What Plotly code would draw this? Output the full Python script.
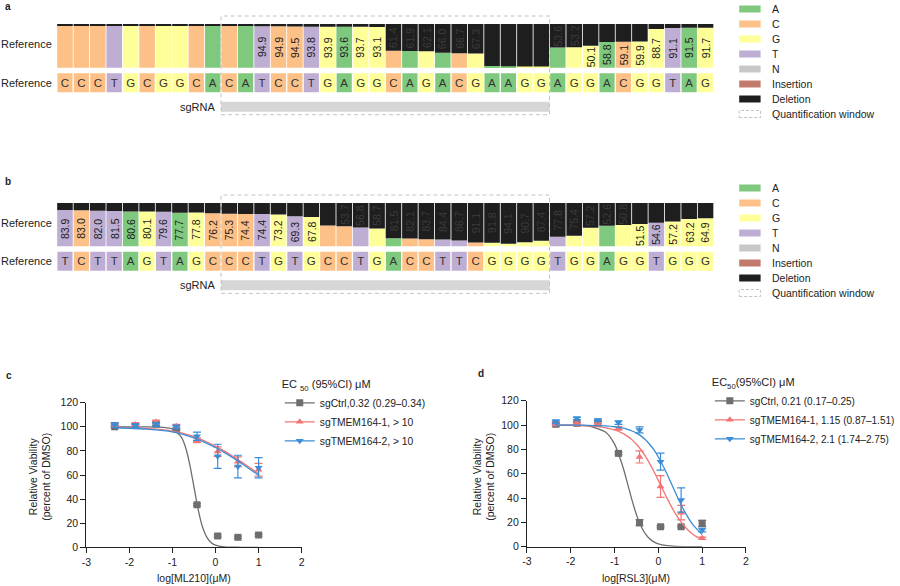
import plotly.graph_objects as go

W, H = 900, 586
FONT = "Liberation Sans, Arial, sans-serif"

# ---------------- panels a / b : allele quilt ----------------
seq_a = list("CCCTGCGGCACATCCTGAGGCAGACGAAGGAGGACGGTAG")
# percent of reads carrying the reference base (rest = deletion)
base_a = [95.6, 95.6, 95.6, 95.6, 95.6, 95.6, 95.6, 95.6, 95.6, 95.6,
          95.2, 95.2, 94.9, 94.9, 94.5, 93.8, 93.9, 93.6, 93.7, 93.1,
          38.6, 38.1, 37.9, 34.0, 33.3, 32.7, 4.0, 3.5, 3.0, 3.0,
          46.4, 46.8, 50.1, 58.8, 59.1, 59.9, 88.7, 91.1, 91.5, 91.7]
# B = label shows base %, D = label shows deletion %, . = no label
lab_a = list("............BBBBBBBBDDDDDD....DDBBBBBBBB")

seq_b = list("TCTTAGTAGCCCTGTGCCTGACCTTCGGGGTGGAGGTGGG")
base_b = [83.9, 83.0, 82.0, 81.5, 80.6, 80.1, 79.6, 77.7, 77.8, 76.2,
          75.3, 74.4, 74.4, 73.2, 69.3, 67.8, 48.0, 46.3, 43.2, 41.3,
          18.5, 17.9, 16.3, 15.6, 13.3, 8.9, 8.2, 5.9, 9.3, 12.6,
          22.2, 24.6, 42.8, 47.4, 49.2, 51.5, 54.6, 57.2, 63.2, 64.9]
lab_b = list("BBBBBBBBBBBBBBBB.DDDDDDDDDDDDDDDDDDBBBBB")

quant_window = (10, 29)   # first / last cell
sgrna_cells = (10, 29)

legend_labels = ["A", "C", "G", "T", "N", "Insertion", "Deletion"]
BASE_COL = {"A": "#7fc97f", "C": "#fdc086", "G": "#ffff99", "T": "#beaed4",
            "N": "#c8c8c8", "Insertion": "#c17a6c", "Deletion": "#1e1e1e"}

# ---------------- panels c / d : dose response ----------------
x_log = [-2.34, -1.86, -1.38, -0.91, -0.43, 0.05, 0.52, 1.0]
fit_x = [-2.34, -2.0, -1.6, -1.2, -1.0, -0.8, -0.7, -0.6, -0.5, -0.4,
         -0.3, -0.2, -0.1, 0.0, 0.2, 0.4, 0.6, 0.8, 1.0]

ml210_ctrl = [100.0, 101.0, 102.3, 98.0, 35.3, 9.4, 8.3, 10.2]
ml210_ctrl_err = [1.0, 1.0, 1.5, 1.0, 1.0, 1.0, 1.0, 1.0]
ml210_t1 = [101.0, 102.0, 104.0, 100.5, 88.8, 79.4, 71.0, 64.4]
ml210_t1_err = [1.5, 1.5, 1.5, 1.5, 2.0, 4.0, 4.0, 5.3]
ml210_t2 = [101.5, 101.0, 102.0, 100.0, 92.2, 75.5, 67.0, 66.0]
ml210_t2_err = [2.0, 1.5, 1.5, 1.5, 3.4, 10.0, 9.4, 8.4]
ml210_ctrl_fit = [100.0, 100.0, 100.0, 99.6, 98.2, 91.8, 83.4, 69.1, 50.0, 30.9,
                  16.6, 8.2, 3.8, 1.8, 0.4, 0.1, 0.0, 0.0, 0.0]
ml210_t1_fit = [99.6, 99.3, 98.7, 97.5, 96.5, 95.0, 94.0, 93.0, 91.8, 90.4,
                89.0, 87.4, 85.7, 83.9, 80.0, 75.6, 70.9, 66.0, 61.2]
ml210_t2_fit = [99.2, 98.8, 98.1, 96.8, 95.7, 94.2, 93.1, 92.1, 90.8, 89.4,
                87.9, 86.3, 84.6, 82.8, 78.8, 74.4, 69.7, 64.8, 59.9]

rsl3_ctrl = [100.6, 101.4, 101.4, 76.7, 19.7, 16.4, 16.4, 19.2]
rsl3_ctrl_err = [1.5, 1.0, 2.0, 1.0, 2.5, 1.0, 1.0, 2.5]
rsl3_t1 = [101.0, 101.5, 101.0, 97.3, 73.8, 49.5, 28.0, 6.9]
rsl3_t1_err = [1.5, 1.0, 1.0, 1.5, 5.0, 8.9, 6.0, 1.0]
rsl3_t2 = [102.7, 105.5, 104.0, 102.0, 96.0, 69.9, 38.4, 13.7]
rsl3_t2_err = [1.5, 1.0, 1.0, 1.5, 2.5, 7.0, 10.0, 1.5]
rsl3_ctrl_fit = [100.0, 99.9, 99.3, 94.1, 84.3, 64.5, 51.4, 38.1, 26.3, 17.2,
                 10.8, 6.6, 4.0, 2.3, 0.8, 0.25, 0.1, 0.0, 0.0]
rsl3_t1_fit = [99.9, 99.8, 99.3, 97.7, 96.0, 92.9, 90.7, 87.8, 84.2, 79.9,
               74.6, 68.5, 61.8, 54.5, 39.7, 26.5, 16.6, 9.8, 5.7]
rsl3_t2_fit = [100.0, 99.9, 99.8, 99.3, 98.6, 97.4, 96.4, 95.1, 93.4, 91.1,
               88.1, 84.2, 79.5, 73.7, 59.6, 43.6, 28.8, 17.5, 10.0]

names_c = ["sgCtrl,0.32 (0.29–0.34)", "sgTMEM164-1, > 10", "sgTMEM164-2, > 10"]
names_d = ["sgCtrl, 0.21 (0.17–0.25)", "sgTMEM164-1, 1.15 (0.87–1.51)",
           "sgTMEM164-2, 2.1 (1.74–2.75)"]
x_ticks = [-3, -2, -1, 0, 1, 2]
x_tick_text = ["-3", "-2", "-1", "0", "1", "2"]

GRAY, RED, BLUE = "#6e6e6e", "#f27474", "#3a8dd6"
SYMBOLS = ["square", "triangle-up", "triangle-down"]

fig = go.Figure()
annotations, shapes, axes = [], [], {}


def add_quilt(n, seq, base, lab, top_px, bot_px):
    xa, ya = ("x", "y") if n == 1 else (f"x{n}", f"y{n}")
    k = (bot_px - top_px) / 100.0

    def u(p):
        return (bot_px - p) / k

    idx = list(range(len(seq)))
    dele = [100 - b for b in base]
    fig.add_trace(go.Bar(x=idx, y=base, base=[0] * len(idx), width=0.95,
                         marker=dict(color=[BASE_COL[s] for s in seq], line=dict(width=0)),
                         xaxis=xa, yaxis=ya, showlegend=False, hoverinfo="skip"))
    fig.add_trace(go.Bar(x=idx, y=dele, base=base, width=0.95,
                         marker=dict(color=BASE_COL["Deletion"], line=dict(width=0)),
                         xaxis=xa, yaxis=ya, showlegend=False, hoverinfo="skip"))
    s_top, s_bot = u(bot_px + 5.5), u(bot_px + 24.5)
    fig.add_trace(go.Bar(x=idx, y=[s_top - s_bot] * len(idx), base=s_bot, width=0.92,
                         marker=dict(color=[BASE_COL[s] for s in seq], line=dict(width=0)),
                         text=seq, textposition="inside", insidetextanchor="middle",
                         textangle=0, constraintext="none",
                         textfont=dict(size=11.5, color="#333", family=FONT),
                         xaxis=xa, yaxis=ya, showlegend=False, hoverinfo="skip"))

    # percentage labels
    for i, (b, kind) in enumerate(zip(base, lab)):
        if kind == "B":
            annotations.append(dict(x=i, y=b / 2, xref=xa, yref=ya, text=f"{b:.1f}",
                                    textangle=-90, showarrow=False,
                                    font=dict(size=10.5, color="#1a1a1a")))
        elif kind == "D":
            annotations.append(dict(x=i, y=b + (100 - b) / 2, xref=xa, yref=ya,
                                    text=f"{100 - b:.1f}", textangle=-90, showarrow=False,
                                    font=dict(size=10.5, color="#3c3c3c")))

    # sgRNA bar and quantification window
    shapes.append(dict(type="rect", xref=xa, yref=ya, x0=sgrna_cells[0] - 0.5,
                       x1=sgrna_cells[1] + 0.5, y0=u(bot_px + 44), y1=u(bot_px + 34),
                       fillcolor="#d6d6d6", line=dict(width=0), layer="below"))
    shapes.append(dict(type="rect", xref=xa, yref=ya, x0=quant_window[0] - 0.5,
                       x1=quant_window[1] + 0.5, y0=u(bot_px + 47), y1=u(top_px - 8),
                       line=dict(color="#c4c4c4", width=1, dash="4px,3px"), layer="above"))

    # row labels
    annotations.append(dict(x=54 / W, xref="paper", xanchor="right", y=u((top_px + bot_px) / 2 - 2),
                            yref=ya, text="Reference", showarrow=False, font=dict(size=11)))
    annotations.append(dict(x=54 / W, xref="paper", xanchor="right", y=(s_top + s_bot) / 2,
                            yref=ya, text="Reference", showarrow=False, font=dict(size=11)))
    annotations.append(dict(x=sgrna_cells[0] - 0.5, xref=xa, xanchor="right", xshift=-3,
                            y=u(bot_px + 39), yref=ya, text="sgRNA", showarrow=False,
                            font=dict(size=11)))

    lo_px, hi_px = bot_px + 55, top_px - 14
    axes["xaxis" if n == 1 else f"xaxis{n}"] = dict(domain=[57 / W, 717 / W], range=[-0.5, 39.5],
                                                   visible=False, anchor=ya, automargin=False)
    axes["yaxis" if n == 1 else f"yaxis{n}"] = dict(domain=[1 - lo_px / H, 1 - hi_px / H],
                                                   range=[u(lo_px), u(hi_px)], visible=False,
                                                   anchor=xa, automargin=False)

    # colour legend
    row0 = top_px - 15
    for j, name in enumerate(legend_labels + ["Quantification window"]):
        yc = row0 + 15 * j
        if name == "Quantification window":
            shapes.append(dict(type="rect", xref="paper", yref="paper", x0=742.5 / W, x1=764 / W,
                               y0=1 - (yc + 3.5) / H, y1=1 - (yc - 3.5) / H,
                               line=dict(color="#c4c4c4", width=1, dash="3px,2px")))
        else:
            shapes.append(dict(type="rect", xref="paper", yref="paper", x0=742.5 / W, x1=764 / W,
                               y0=1 - (yc + 3.5) / H, y1=1 - (yc - 3.5) / H,
                               fillcolor=BASE_COL[name], line=dict(width=0)))
        annotations.append(dict(x=773 / W, y=1 - yc / H, xref="paper", yref="paper",
                                xanchor="left", yanchor="middle", text=name, showarrow=False,
                                font=dict(size=10.5)))


add_quilt(1, seq_a, base_a, lab_a, 24, 67.7)
add_quilt(2, seq_b, base_b, lab_b, 203, 246.3)


def add_dose(n, legend, means, errs, fits, names):
    xa, ya = f"x{n}", f"y{n}"
    for col, sym, m, e, f, nm in zip([GRAY, RED, BLUE], SYMBOLS, means, errs, fits, names):
        fig.add_trace(go.Scatter(x=fit_x, y=f, mode="lines",
                                 line=dict(color=col, width=1.3, shape="spline", smoothing=0.6),
                                 xaxis=xa, yaxis=ya, showlegend=False, hoverinfo="skip"))
        fig.add_trace(go.Scatter(x=x_log, y=m, mode="markers", cliponaxis=False,
                                 marker=dict(symbol=sym, size=7, color=col),
                                 error_y=dict(type="data", array=e, color=col, thickness=1.2, width=4),
                                 xaxis=xa, yaxis=ya, showlegend=False))
        fig.add_trace(go.Scatter(x=[None], y=[None], mode="lines+markers", name=nm,
                                 line=dict(color=col, width=1.3),
                                 marker=dict(symbol=sym, size=7, color=col),
                                 xaxis=xa, yaxis=ya, legend=legend))


add_dose(3, "legend", [ml210_ctrl, ml210_t1, ml210_t2], [ml210_ctrl_err, ml210_t1_err, ml210_t2_err],
         [ml210_ctrl_fit, ml210_t1_fit, ml210_t2_fit], names_c)
add_dose(4, "legend2", [rsl3_ctrl, rsl3_t1, rsl3_t2], [rsl3_ctrl_err, rsl3_t1_err, rsl3_t2_err],
         [rsl3_ctrl_fit, rsl3_t1_fit, rsl3_t2_fit], names_d)

ax_common = dict(showline=True, linecolor="#222", linewidth=1.2, ticks="outside", ticklen=5,
                 tickwidth=1.2, tickcolor="#222", showgrid=False, zeroline=False,
                 tickfont=dict(size=10.5), fixedrange=True, automargin=False)
axes["xaxis3"] = dict(ax_common, domain=[86.7 / W, 303 / W], range=[-3, 2], tickvals=x_ticks,
                      ticktext=x_tick_text, anchor="y3")
axes["yaxis3"] = dict(ax_common, domain=[1 - 547.3 / H, 1 - 402.7 / H], range=[0, 120], dtick=20,
                      anchor="x3")
axes["xaxis4"] = dict(ax_common, domain=[529.3 / W, 749.3 / W], range=[-3, 2], tickvals=x_ticks,
                      ticktext=x_tick_text, anchor="y4")
axes["yaxis4"] = dict(ax_common, domain=[1 - 546.7 / H, 1 - 400.7 / H], range=[0, 120], dtick=20,
                      anchor="x4")

# axis titles
for yx, xt, xx in [(40, "log[ML210](μM)", 195), (486, "log[RSL3](μM)", 639)]:
    annotations.append(dict(x=yx / W, y=1 - 477 / H, xref="paper", yref="paper", textangle=-90,
                            xanchor="center", yanchor="middle",
                            text="Relative Viability<br>(percent of DMSO)", showarrow=False,
                            font=dict(size=10.5)))
    annotations.append(dict(x=xx / W, y=1 - 578 / H, xref="paper", yref="paper", text=xt,
                            xanchor="center", yanchor="middle", showarrow=False,
                            font=dict(size=10.5)))

# panel letters
for letter, px, py in [("a", 3, 6), ("b", 3, 182), ("c", 4, 375), ("d", 478, 373)]:
    annotations.append(dict(x=px / W, y=1 - py / H, xref="paper", yref="paper", xanchor="left",
                            yanchor="middle", text=f"<b>{letter}</b>", showarrow=False,
                            font=dict(size=10)))

fig.update_layout(
    template="none",
    width=W, height=H, margin=dict(l=0, r=0, t=0, b=0, pad=0), autosize=False,
    paper_bgcolor="white", plot_bgcolor="white", barmode="overlay",
    font=dict(family=FONT, size=11, color="#222"),
    annotations=annotations, shapes=shapes,
    legend=dict(x=281 / W, y=1 - 374 / H, xanchor="left", yanchor="top", bgcolor="rgba(0,0,0,0)",
                title=dict(text="EC <sub>50</sub> (95%CI) μM", font=dict(size=11)),
                font=dict(size=10.3)),
    legend2=dict(x=713 / W, y=1 - 372 / H, xanchor="left", yanchor="top", bgcolor="rgba(0,0,0,0)",
                 title=dict(text="EC<sub>50</sub>(95%CI) μM", font=dict(size=11)),
                 font=dict(size=10)),
    **axes,
)

# the page's default body margin would shift the 900x586 figure inside the window
fig.write_html("out.html", config={"displayModeBar": False},
               post_script="document.body.style.margin='0';")
